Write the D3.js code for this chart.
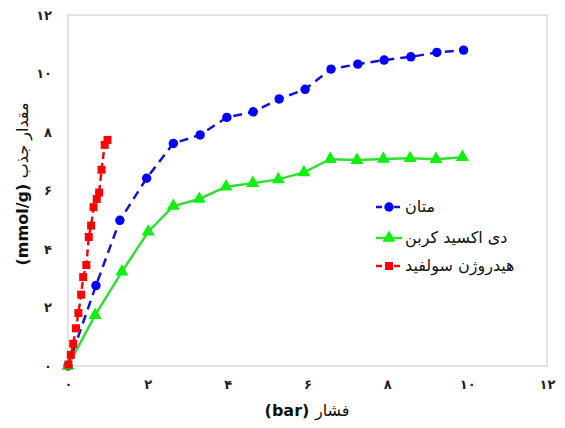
<!DOCTYPE html>
<html><head><meta charset="utf-8">
<script src="https://cdn.jsdelivr.net/npm/d3@7"></script>
<style>
html,body{margin:0;padding:0;background:#fff;}
svg{display:block;}
</style></head>
<body>
<script>
// ---- data ----
const methaneX = [0, 0.70, 1.30, 1.97, 2.64, 3.31, 3.98, 4.64, 5.29, 5.94, 6.59, 7.26, 7.92, 8.59, 9.24, 9.91];
const methaneY = [0, 2.75, 4.98, 6.42, 7.61, 7.90, 8.50, 8.69, 9.13, 9.46, 10.15, 10.32, 10.46, 10.57, 10.72, 10.80];
const co2X = [0, 0.68, 1.35, 2.01, 2.64, 3.29, 3.96, 4.63, 5.27, 5.91, 6.57, 7.24, 7.90, 8.57, 9.22, 9.88];
const co2Y = [0, 1.74, 3.22, 4.59, 5.47, 5.71, 6.13, 6.25, 6.38, 6.62, 7.07, 7.04, 7.08, 7.10, 7.07, 7.14];
const h2sX = [0.01, 0.07, 0.13, 0.20, 0.26, 0.33, 0.38, 0.46, 0.52, 0.58, 0.64, 0.72, 0.78, 0.84, 0.92, 0.99];
const h2sY = [0.05, 0.38, 0.76, 1.29, 1.81, 2.44, 3.04, 3.45, 4.41, 4.80, 5.43, 5.71, 5.93, 6.71, 7.56, 7.73];
const seriesNames = ["متان", "دی اکسید کربن", "هیدروژن سولفید"];
const tickValues = [0, 2, 4, 6, 8, 10, 12];
const tickLabels = ["۰", "۲", "۴", "۶", "۸", "۱۰", "۱۲"];
const xTitle = ["فشار", "(bar)"];
const yTitle = ["مقدار جذب", "(mmol/g)"];

const W = 565, H = 428;
const m = {left: 68, top: 15, right: 18, bottom: 62};
const svg = d3.select("body").append("svg").attr("width", W).attr("height", H);

const x = d3.scaleLinear().domain([0, 12]).range([m.left, W - m.right]);
const y = d3.scaleLinear().domain([0, 12]).range([H - m.bottom, m.top]);

// plot box
svg.append("rect").attr("x", x(0)).attr("y", y(12))
  .attr("width", x(12) - x(0)).attr("height", y(0) - y(12))
  .attr("fill", "none").attr("stroke", "#c8c8c8").attr("stroke-width", 1);

const font = "'DejaVu Sans', 'Noto Sans', sans-serif";

// axes (labels only)
const xAxis = d3.axisBottom(x).tickValues(tickValues).tickSize(0).tickPadding(0)
  .tickFormat((d, i) => tickLabels[i]);
const gx = svg.append("g").attr("transform", `translate(0,${y(0) + 14})`).call(xAxis);
gx.select(".domain").remove();
gx.selectAll("text").attr("font-family", font).attr("font-size", 13).attr("font-weight", "bold").attr("fill", "#222");

const yAxis = d3.axisLeft(y).tickValues(tickValues).tickSize(0).tickPadding(0)
  .tickFormat((d, i) => tickLabels[i]);
const gy = svg.append("g").attr("transform", `translate(${x(0) - 16},0)`).call(yAxis);
gy.select(".domain").remove();
gy.selectAll("text").attr("font-family", font).attr("font-size", 13).attr("font-weight", "bold").attr("fill", "#222");

// axis titles (Persian word on the reading-end side)
const xt = svg.append("text").attr("x", 307).attr("y", 416).attr("text-anchor", "middle")
  .attr("font-family", font).attr("font-size", 16).attr("fill", "#111").attr("direction", "ltr");
xt.append("tspan").text(xTitle[1] + " ").attr("font-weight", "bold");
xt.append("tspan").text(xTitle[0]);

const yt = svg.append("text").attr("transform", "translate(28,184) rotate(-90)").attr("text-anchor", "middle")
  .attr("font-family", font).attr("font-size", 16).attr("fill", "#111").attr("direction", "ltr");
yt.append("tspan").text(yTitle[1] + " ").attr("font-weight", "bold");
yt.append("tspan").text(yTitle[0]);

// series
const series = [
  {xs: methaneX, ys: methaneY, line: "#1414c8", fill: "#0000ff", dash: "9,6", shape: "circle"},
  {xs: co2X, ys: co2Y, line: "#33dd33", fill: "#11ee11", dash: null, shape: "triangle"},
  {xs: h2sX, ys: h2sY, line: "#dd1010", fill: "#ff0000", dash: "7,4", shape: "square"}
];
const line = d3.line().x(d => x(d[0])).y(d => y(d[1]));
const sym = {
  circle: d3.symbol().type(d3.symbolCircle).size(70),
  triangle: d3.symbol().type(d3.symbolTriangle).size(75),
  square: d3.symbol().type(d3.symbolSquare).size(64)
};
function drawMarker(g, s, cx, cy) {
  g.append("path").attr("d", sym[s.shape]()).attr("transform", `translate(${cx},${cy})`)
    .attr("fill", s.fill);
}
series.forEach(s => {
  const pts = s.xs.map((v, i) => [v, s.ys[i]]);
  svg.append("path").datum(pts).attr("d", line).attr("fill", "none")
    .attr("stroke", s.line).attr("stroke-width", 2.5)
    .attr("stroke-dasharray", s.dash);
  const g = svg.append("g");
  pts.forEach(p => drawMarker(g, s, x(p[0]), y(p[1])));
});

// legend
const legY = [207, 238, 266];
series.forEach((s, i) => {
  const g = svg.append("g");
  g.append("line").attr("x1", 376).attr("x2", 402).attr("y1", legY[i]).attr("y2", legY[i])
    .attr("stroke", s.line).attr("stroke-width", 2.5).attr("stroke-dasharray", s.dash ? "6,3" : null);
  drawMarker(g, s, 389, legY[i]);
  g.append("text").attr("x", 405).attr("y", legY[i] + 5).attr("text-anchor", "start")
    .attr("font-family", font).attr("font-size", 16).attr("fill", "#111")
    .text(seriesNames[i]);
});
</script>
</body></html>
